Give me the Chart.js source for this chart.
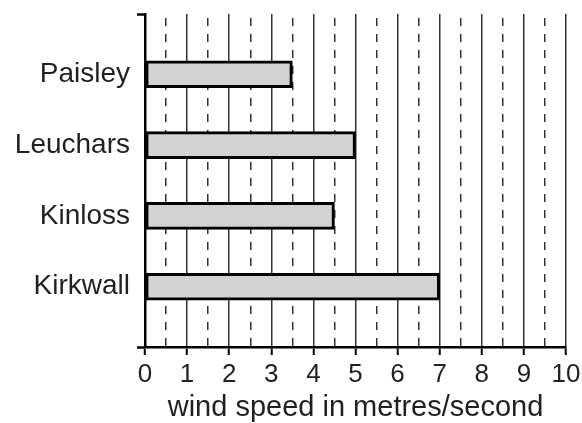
<!DOCTYPE html>
<html>
<head>
<meta charset="utf-8">
<script src="https://cdn.jsdelivr.net/npm/chart.js@4"></script>
<style>
  html, body { margin: 0; padding: 0; background: #fff; }
  #wrap { width: 582px; height: 423px; }
</style>
</head>
<body>
<div id="wrap"><canvas id="windChart"></canvas></div>
<script>
const stations = ["Paisley", "Leuchars", "Kinloss", "Kirkwall"];
const windSpeeds = [3.5, 5, 4.5, 7];
const xTicks = [0, 1, 2, 3, 4, 5, 6, 7, 8, 9, 10];
const halfTicks = [0.5, 1.5, 2.5, 3.5, 4.5, 5.5, 6.5, 7.5, 8.5, 9.5];

const FONT = "'Liberation Sans', Arial, Helvetica, sans-serif";
const INK = "#231f20";

// bars sit at positions 1..4 on a linear index axis, with extra room at both ends
const rows = stations.map((name, i) => ({ x: windSpeeds[i], y: i + 1 }));
const yMin = 0.15, yMax = stations.length + 0.85;
const isRow = (c) => c.tick && Number.isInteger(c.tick.value);

const ctx = document.getElementById("windChart").getContext("2d");

new Chart(ctx, {
  type: "bar",
  data: {
    datasets: [{
      data: rows,
      backgroundColor: "#d2d2d2",
      borderColor: "#000",
      borderWidth: 3,
      borderSkipped: false,
      barThickness: 27
    }]
  },
  options: {
    indexAxis: "y",
    responsive: true,
    maintainAspectRatio: false,
    animation: false,
    layout: { padding: { top: 14, right: 16, bottom: 0, left: 0 } },
    plugins: { legend: { display: false }, tooltip: { enabled: false } },
    scales: {
      x: {
        type: "linear",
        position: "bottom",
        min: 0,
        max: 10,
        afterBuildTicks: (s) => { s.ticks = xTicks.map(v => ({ value: v })); },
        afterFit: (s) => { s.height = 76; s.paddingRight = 0; },
        grid: {
          color: "#333",
          lineWidth: 1.5,
          tickLength: 8,
          tickColor: "#000",
          tickWidth: 2
        },
        border: { display: true, color: "#000", width: 2.5 },
        ticks: {
          color: INK,
          padding: 4,
          maxRotation: 0,
          autoSkip: false,
          font: { family: FONT, size: 26 }
        },
        title: {
          display: true,
          text: "wind speed in metres/second",
          color: INK,
          padding: { top: 0, bottom: -2 },
          font: { family: FONT, size: 29 }
        }
      },
      // second scale only for the dashed half-unit grid lines
      x2: {
        type: "linear",
        position: "top",
        min: 0,
        max: 10,
        afterBuildTicks: (s) => { s.ticks = halfTicks.map(v => ({ value: v })); },
        afterFit: (s) => { s.height = 0; },
        grid: { color: "#333", lineWidth: 1.5, drawTicks: false },
        border: { display: false, dash: [8, 8], dashOffset: 12 },
        ticks: { display: false }
      },
      y: {
        type: "linear",
        reverse: true,
        offset: false,
        min: yMin,
        max: yMax,
        afterBuildTicks: (s) => {
          s.ticks = [yMin, ...stations.map((_, i) => i + 1), yMax].map(v => ({ value: v }));
        },
        afterFit: (s) => { s.width = 145; },
        grid: {
          offset: false,
          drawOnChartArea: false,
          tickLength: 8,
          tickWidth: 2.5,
          tickColor: (c) => (isRow(c) ? "rgba(0,0,0,0)" : "#000")
        },
        border: { display: true, color: "#000", width: 2.5 },
        ticks: {
          color: INK,
          padding: 7,
          autoSkip: false,
          font: (c) => ({ family: FONT, size: isRow(c) ? 28 : 1 }),
          callback: (v) => (Number.isInteger(v) ? stations[v - 1] : "")
        }
      }
    }
  }
});
</script>
</body>
</html>
